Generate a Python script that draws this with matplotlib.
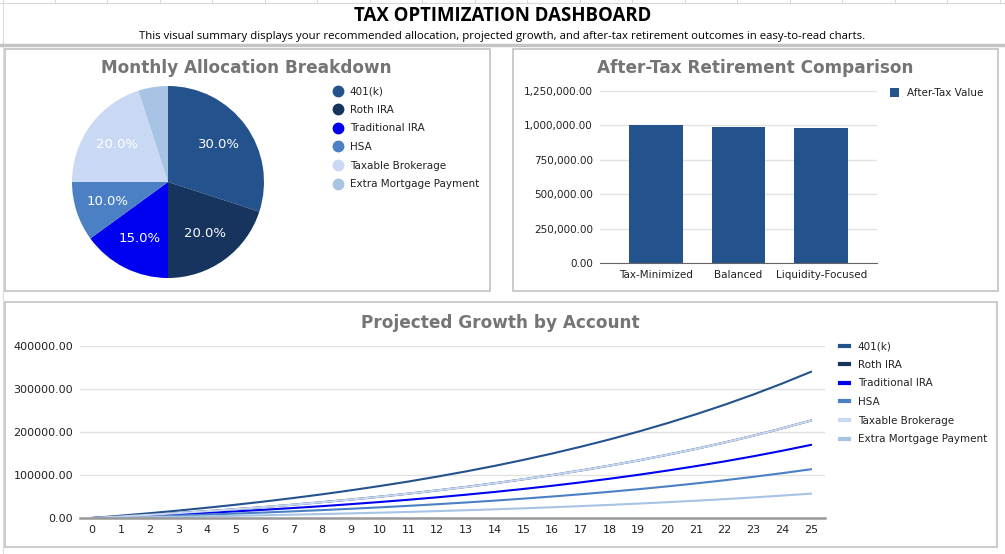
import matplotlib
matplotlib.use("Agg")
import matplotlib.pyplot as plt
import matplotlib.patches as mpatches
from matplotlib.lines import Line2D
from matplotlib.ticker import FuncFormatter

# data
accounts = ['401(k)', 'Roth IRA', 'Traditional IRA', 'HSA', 'Taxable Brokerage', 'Extra Mortgage Payment']
alloc_pct = [30, 20, 15, 10, 20, 5]
colors = ['#24528c', '#17345f', '#0000f0', '#4b81c4', '#c9d9f3', '#a7c4e4']

scenarios = ['Tax-Minimized', 'Balanced', 'Liquidity-Focused']
after_tax = [1006000, 988000, 982000]

years = list(range(26))
growth_401k = [0, 5400, 11100, 17300, 23900, 30900, 38400, 46500, 55100, 64400, 74300, 84800, 96200,
               108300, 121200, 135100, 149900, 165800, 182700, 200900, 220400, 241200, 263400, 287200,
               312700, 340000]
growth_roth = [0, 3600, 7400, 11500, 15900, 20600, 25600, 31000, 36800, 42900, 49500, 56600, 64100,
               72200, 80800, 90100, 99900, 110500, 121800, 133900, 146900, 160800, 175600, 191500,
               208500, 226700]
growth_trad = [0, 2700, 5550, 8650, 11950, 15450, 19200, 23250, 27550, 32200, 37150, 42400, 48100,
               54150, 60600, 67550, 74950, 82900, 91350, 100450, 110200, 120600, 131700, 143600,
               156350, 170000]
growth_hsa = [0, 1800, 3700, 5750, 7950, 10300, 12800, 15500, 18350, 21450, 24750, 28250, 32050,
              36100, 40400, 45050, 49950, 55250, 60900, 66950, 73450, 80400, 87800, 95750, 104250, 113300]
growth_taxable = [0, 3600, 7400, 11500, 15900, 20600, 25600, 31000, 36800, 42900, 49500, 56600, 64100,
                  72200, 80800, 90100, 99900, 110500, 121800, 133900, 146900, 160800, 175600, 191500,
                  208500, 226700]
growth_mortgage = [0, 900, 1850, 2900, 4000, 5150, 6400, 7750, 9200, 10750, 12400, 14150, 16050,
                   18050, 20200, 22500, 25000, 27650, 30450, 33500, 36750, 40200, 43900, 47850,
                   52100, 56650]
growth = [growth_401k, growth_roth, growth_trad, growth_hsa, growth_taxable, growth_mortgage]

W, H = 1005, 554
TITLE_GRAY = '#757575'
TXT = '#222222'


def rect(x0, y0, x1, y1):
    # pixel box (top-left origin) -> figure fraction
    return [x0 / W, 1 - y1 / H, (x1 - x0) / W, (y1 - y0) / H]


def fx(x):
    return x / W


def fy(y):
    return 1 - y / H


fig = plt.figure(figsize=(W / 100, H / 100), dpi=100)
fig.patch.set_facecolor('white')

# spreadsheet background bits
for gx in [3, 55, 107, 160, 212, 265, 317, 370, 422, 475, 527, 580, 632, 685, 737, 790, 842, 895, 947, 1000]:
    fig.add_artist(Line2D([fx(gx), fx(gx)], [fy(0), fy(3)], color='#d8d8d8', lw=0.8))
fig.add_artist(Line2D([0, 1], [fy(3), fy(3)], color='#d8d8d8', lw=0.8))
fig.add_artist(Line2D([fx(3), fx(3)], [fy(0), fy(554)], color='#dcdcdc', lw=0.8))
fig.add_artist(Line2D([0, 1], [fy(45), fy(45)], color='#c4c4c4', lw=2.5))

fig.text(0.5, fy(16), 'TAX OPTIMIZATION DASHBOARD', ha='center', va='center',
         fontsize=13.4, fontweight='bold', family='Open Sans', color='black')
fig.text(0.5, fy(36), 'This visual summary displays your recommended allocation, projected growth, '
         'and after-tax retirement outcomes in easy-to-read charts.',
         ha='center', va='center', fontsize=8.2, family='Open Sans', color='black')

# panel frames
for x0, y0, x1, y1 in [(5, 49, 490, 291), (513, 49, 998, 291), (5, 302, 997, 547)]:
    fig.add_artist(mpatches.Rectangle((fx(x0), fy(y1)), fx(x1 - x0), (y1 - y0) / H,
                                      transform=fig.transFigure, fill=False,
                                      edgecolor='#c2c2c2', lw=1.2))

# ---- pie ----
ax_pie = fig.add_axes(rect(72, 86, 264, 278))
wedges, _, pct_texts = ax_pie.pie(alloc_pct, colors=colors, startangle=90, counterclock=False,
                                  autopct=lambda p: f'{p:.1f}%' if p > 6 else '', pctdistance=0.66,
                                  wedgeprops=dict(linewidth=0))
for t in pct_texts:
    t.set_color('white')
    t.set_fontsize(9.5)
ax_pie.set_xlim(-1, 1)
ax_pie.set_ylim(-1, 1)
ax_pie.set_aspect('equal')
fig.text(fx(246), fy(68), 'Monthly Allocation Breakdown', ha='center', va='center',
         fontsize=12.2, fontweight='bold', color=TITLE_GRAY)
pie_handles = [Line2D([0], [0], marker='o', color='none', markerfacecolor=c, markeredgecolor=c,
                      markersize=7.5, label=a) for a, c in zip(accounts, colors)]
fig.legend(handles=pie_handles, loc='upper left', bbox_to_anchor=(fx(329), fy(82)),
           frameon=False, fontsize=7.5, labelspacing=0.83, handlelength=1.0, handletextpad=0.6,
           labelcolor=TXT, borderaxespad=0)

# ---- bars ----
ax_bar = fig.add_axes(rect(600, 91, 877, 263))
ax_bar.bar(range(len(scenarios)), after_tax, width=0.65, color='#24528c', label='After-Tax Value')
ax_bar.set_xlim(-0.675, 2.675)
ax_bar.set_ylim(0, 1250000)
ax_bar.set_yticks([0, 250000, 500000, 750000, 1000000, 1250000])
ax_bar.yaxis.set_major_formatter(FuncFormatter(lambda v, p: f'{v:,.2f}'))
ax_bar.set_xticks(range(len(scenarios)))
ax_bar.set_xticklabels(scenarios)
ax_bar.grid(axis='y', color='#e2e2e2', lw=1)
ax_bar.set_axisbelow(True)
for s in ['top', 'right', 'left']:
    ax_bar.spines[s].set_visible(False)
ax_bar.spines['bottom'].set_color('#666666')
ax_bar.tick_params(length=0, labelsize=7.5, labelcolor=TXT, pad=5)
fig.text(fx(755), fy(68), 'After-Tax Retirement Comparison', ha='center', va='center',
         fontsize=12.2, fontweight='bold', color=TITLE_GRAY)
ax_bar.legend(loc='upper left', bbox_to_anchor=(fx(886), fy(84)), bbox_transform=fig.transFigure,
              frameon=False, fontsize=7.5, handlelength=0.8, handleheight=0.9, handletextpad=0.8,
              labelcolor=TXT, borderaxespad=0)

# ---- lines ----
ax_line = fig.add_axes(rect(80, 346, 825, 518))
for name, c, vals in zip(accounts, colors, growth):
    ax_line.plot(years, vals, color=c, lw=1.5, label=name)
ax_line.set_xlim(-0.42, 25.49)
ax_line.set_ylim(0, 400000)
ax_line.set_yticks([0, 100000, 200000, 300000, 400000])
ax_line.yaxis.set_major_formatter(FuncFormatter(lambda v, p: f'{v:.2f}'))
ax_line.set_xticks(years)
ax_line.grid(axis='y', color='#e2e2e2', lw=1)
ax_line.set_axisbelow(True)
for s in ['top', 'right', 'left']:
    ax_line.spines[s].set_visible(False)
ax_line.spines['bottom'].set_color('#999999')
ax_line.spines['bottom'].set_linewidth(1.8)
ax_line.tick_params(length=0, labelsize=8, labelcolor=TXT, pad=5)
fig.text(fx(500), fy(323), 'Projected Growth by Account', ha='center', va='center',
         fontsize=12.2, fontweight='bold', color=TITLE_GRAY)
ax_line.legend(loc='upper left', bbox_to_anchor=(fx(836), fy(337)), bbox_transform=fig.transFigure,
               frameon=False, fontsize=7.5, labelspacing=0.83, handlelength=0.8, handletextpad=0.9,
               labelcolor=TXT, borderaxespad=0)
for h in ax_line.get_legend().legend_handles:
    h.set_linewidth(3)

fig.savefig('out.png', dpi=100)
